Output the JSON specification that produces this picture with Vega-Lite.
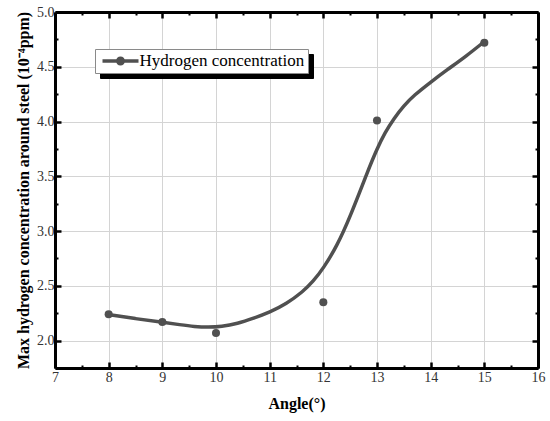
{
  "$schema": "https://vega.github.io/schema/vega-lite/v6.json",
  "width": 483,
  "height": 356,
  "autosize": {"type": "none"},
  "padding": {"left": 55, "top": 12, "right": 12, "bottom": 53},
  "background": "white",
  "config": {
    "font": "Liberation Serif",
    "view": {"stroke": null},
    "axis": {
      "labelFont": "Liberation Serif",
      "labelFontSize": 14,
      "labelColor": "#333333",
      "titleFont": "Liberation Serif",
      "titleFontWeight": "bold",
      "titleColor": "black",
      "domainColor": "black",
      "domainWidth": 3,
      "tickColor": "black",
      "gridColor": "#d4d4d4",
      "gridWidth": 1
    },
    "legend": {"labelFont": "Liberation Serif"}
  },
  "datasets": {
    "points": [
      {"Angle": 8, "Conc": 2.24},
      {"Angle": 9, "Conc": 2.17},
      {"Angle": 10, "Conc": 2.07},
      {"Angle": 12, "Conc": 2.35},
      {"Angle": 13, "Conc": 4.01},
      {"Angle": 15, "Conc": 4.72}
    ],
    "curve": [
      {"Angle": 8, "Conc": 2.237},
      {"Angle": 8.5, "Conc": 2.2},
      {"Angle": 9, "Conc": 2.168},
      {"Angle": 9.33, "Conc": 2.145},
      {"Angle": 9.6, "Conc": 2.128},
      {"Angle": 9.85, "Conc": 2.121},
      {"Angle": 10.1, "Conc": 2.127},
      {"Angle": 10.4, "Conc": 2.155},
      {"Angle": 10.7, "Conc": 2.204},
      {"Angle": 11, "Conc": 2.259},
      {"Angle": 11.31, "Conc": 2.335},
      {"Angle": 11.62, "Conc": 2.447},
      {"Angle": 11.81, "Conc": 2.54},
      {"Angle": 12, "Conc": 2.66},
      {"Angle": 12.25, "Conc": 2.86},
      {"Angle": 12.5, "Conc": 3.13},
      {"Angle": 12.83, "Conc": 3.55},
      {"Angle": 13, "Conc": 3.75},
      {"Angle": 13.15, "Conc": 3.9},
      {"Angle": 13.31, "Conc": 4.025},
      {"Angle": 13.5, "Conc": 4.145},
      {"Angle": 13.69, "Conc": 4.24},
      {"Angle": 14, "Conc": 4.36},
      {"Angle": 14.3, "Conc": 4.47},
      {"Angle": 14.67, "Conc": 4.6},
      {"Angle": 15, "Conc": 4.73}
    ]
  },
  "layer": [
    {
      "data": {"name": "curve"},
      "mark": {"type": "line", "color": "#505050", "strokeWidth": 3.5, "interpolate": "basis", "strokeCap": "round"},
      "encoding": {
        "x": {
          "field": "Angle", "type": "quantitative",
          "scale": {"domain": [7, 16], "nice": false, "zero": false},
          "axis": {
            "orient": "bottom",
            "title": "Angle(°)",
            "titleFontSize": 16,
            "titlePadding": 8,
            "values": [7, 7.5, 8, 8.5, 9, 9.5, 10, 10.5, 11, 11.5, 12, 12.5, 13, 13.5, 14, 14.5, 15, 15.5, 16],
            "labelExpr": "datum.value % 1 === 0 ? format(datum.value, 'd') : ''",
            "labelPadding": 8,
            "labelFlush": false,
            "labelOverlap": false,
            "grid": true,
            "gridOpacity": {"condition": {"test": "datum.value % 1 === 0 && datum.value > 7 && datum.value < 16", "value": 1}, "value": 0},
            "tickSize": {"condition": {"test": "datum.value % 1 === 0", "value": -6}, "value": -3},
            "tickWidth": {"condition": {"test": "datum.value % 1 === 0", "value": 2.5}, "value": 2}
          }
        },
        "y": {
          "field": "Conc", "type": "quantitative",
          "scale": {"domain": [1.75, 5], "nice": false, "zero": false},
          "axis": {
            "orient": "left",
            "title": "Max hydrogen concentration around steel (10⁻⁴ppm)",
            "titleFontSize": 16,
            "titlePadding": 5,
            "values": [1.75, 2, 2.25, 2.5, 2.75, 3, 3.25, 3.5, 3.75, 4, 4.25, 4.5, 4.75, 5],
            "labelExpr": "(datum.value * 2) % 1 === 0 ? format(datum.value, '.1f') : ''",
            "labelPadding": 7,
            "labelOverlap": false,
            "labelFlush": false,
            "grid": true,
            "gridOpacity": {"condition": {"test": "(datum.value * 2) % 1 === 0 && datum.value < 5", "value": 1}, "value": 0},
            "tickSize": {"condition": {"test": "(datum.value * 2) % 1 === 0", "value": -6}, "value": -3},
            "tickWidth": {"condition": {"test": "(datum.value * 2) % 1 === 0", "value": 2.5}, "value": 2}
          }
        }
      }
    },
    {
      "data": {"name": "points"},
      "mark": {"type": "point", "filled": true, "opacity": 1, "size": 65},
      "encoding": {
        "x": {
          "field": "Angle", "type": "quantitative",
          "axis": {
            "orient": "top",
            "title": null,
            "values": [7, 7.5, 8, 8.5, 9, 9.5, 10, 10.5, 11, 11.5, 12, 12.5, 13, 13.5, 14, 14.5, 15, 15.5, 16],
            "labels": false,
            "grid": false,
            "tickSize": {"condition": {"test": "datum.value % 1 === 0", "value": -6}, "value": -3},
            "tickWidth": {"condition": {"test": "datum.value % 1 === 0", "value": 2.5}, "value": 2}
          }
        },
        "y": {
          "field": "Conc", "type": "quantitative",
          "axis": {
            "orient": "right",
            "title": null,
            "values": [1.75, 2, 2.25, 2.5, 2.75, 3, 3.25, 3.5, 3.75, 4, 4.25, 4.5, 4.75, 5],
            "labels": false,
            "grid": false,
            "tickSize": {"condition": {"test": "(datum.value * 2) % 1 === 0", "value": -6}, "value": -3},
            "tickWidth": {"condition": {"test": "(datum.value * 2) % 1 === 0", "value": 2.5}, "value": 2}
          }
        },
        "color": {
          "datum": "Hydrogen concentration",
          "scale": {"range": ["#505050"]},
          "legend": {
            "title": null,
            "orient": "none",
            "legendX": 40,
            "legendY": 37,
            "zindex": 2,
            "padding": 3.5,
            "fillColor": "white",
            "strokeColor": "#8a8a8a",
            "labelFont": "Liberation Serif",
            "labelFontSize": 17,
            "labelColor": "black",
            "labelOffset": 10.5,
            "labelLimit": 400,
            "symbolType": "M-4,-0.4H4V0.4H-4Z M1,0A1,1,0,1,1,-1,0A1,1,0,1,1,1,0Z",
            "symbolSize": 81,
            "symbolOffset": 13.5,
            "symbolStrokeWidth": 0,
            "symbolFillColor": "#505050",
            "symbolOpacity": 1
          }
        },
        "shape": {
          "datum": "shadow",
          "scale": {"range": ["circle"]},
          "legend": {
            "title": null,
            "orient": "none",
            "legendX": 45,
            "legendY": 42,
            "zindex": 1,
            "padding": 3.5,
            "fillColor": "black",
            "strokeColor": "black",
            "labelFont": "Liberation Serif",
            "labelFontSize": 17,
            "labelColor": "black",
            "labelOffset": 10.5,
            "labelLimit": 400,
            "labelExpr": "'Hydrogen concentration'",
            "symbolSize": 81,
            "symbolOffset": 13.5,
            "symbolStrokeWidth": 0,
            "symbolFillColor": "black"
          }
        }
      }
    }
  ],
  "resolve": {"axis": {"x": "independent", "y": "independent"}}
}
